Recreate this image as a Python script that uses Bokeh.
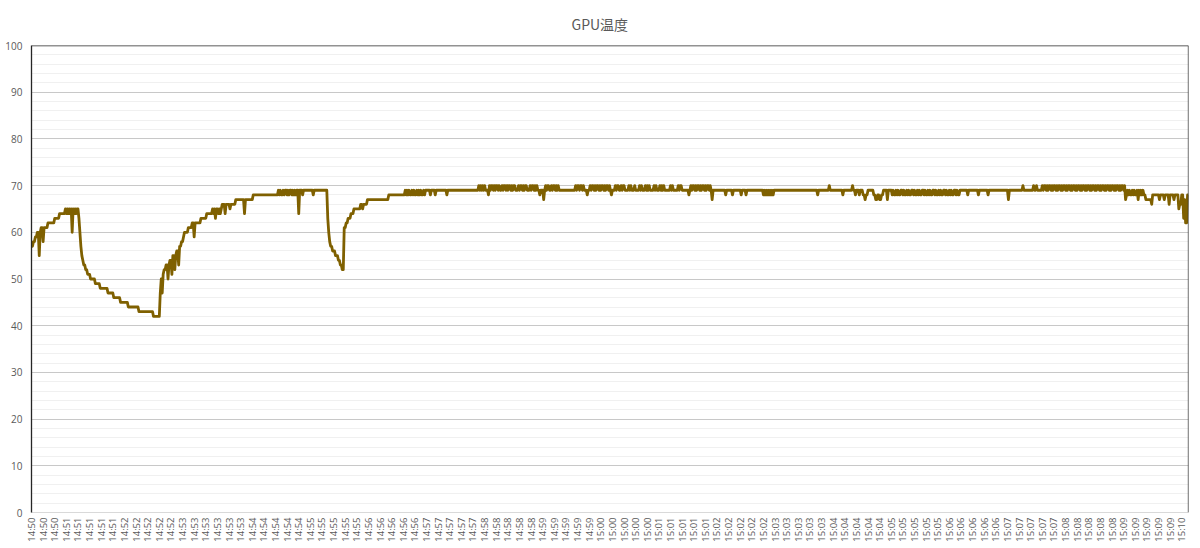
import numpy as np
from bokeh.plotting import figure
from bokeh.models import Range1d, FixedTicker, SingleIntervalTicker, Span
from bokeh.embed import file_html
from bokeh.resources import INLINE

# ---- data: GPU temperature (°C), one sample per step ----
N_SAMPLES = 1196
# (sample index where a value starts, temperature)
steps_start = [(0, 57), (2, 58), (4, 59), (6, 60), (8, 55), (9, 60), (10, 61), (12, 58), (13, 61),
               (17, 62), (24, 63), (29, 64), (35, 65), (36, 64), (37, 65), (38, 64), (39, 65),
               (40, 64), (41, 65), (42, 60), (43, 65), (44, 64), (45, 65), (46, 64), (47, 65)]
steps_cooldown = [(49, 63), (50, 60), (51, 57), (52, 55), (53, 54), (54, 53), (56, 52), (58, 51),
                  (61, 50), (66, 49), (71, 48), (79, 47), (85, 46), (92, 45), (100, 44),
                  (111, 43), (126, 42)]
steps_warmup = [(133, 47), (134, 50), (135, 47), (136, 51), (137, 52), (139, 53), (141, 50),
                (142, 53), (143, 54), (145, 51), (146, 55), (148, 52), (149, 55), (150, 56),
                (152, 53), (153, 57), (155, 58), (157, 59), (158, 60), (162, 61), (166, 62),
                (168, 59), (169, 62), (175, 63), (181, 64), (187, 65), (188, 64), (189, 65),
                (190, 63), (191, 65), (193, 64), (194, 65), (195, 64), (196, 65), (197, 66),
                (200, 64), (201, 66), (205, 65), (206, 66), (211, 67), (220, 64), (221, 67),
                (229, 68)]
steps_load1 = [(255, 69), (256, 68), (257, 69), (258, 68), (260, 69), (261, 68), (262, 69),
               (264, 68), (265, 69), (266, 68), (267, 69), (269, 68), (270, 69), (271, 68),
               (272, 69), (273, 68), (274, 69), (276, 64), (277, 69), (280, 68), (281, 69),
               (291, 68), (292, 69)]
steps_dip = [(306, 63), (307, 60), (308, 58), (309, 57), (311, 56), (314, 55), (317, 54),
             (319, 53), (321, 52), (323, 61), (325, 62), (327, 63), (330, 64), (333, 65),
             (340, 66), (342, 65), (343, 66), (347, 67), (369, 68)]
steps_load2 = [(386, 69), (387, 68), (388, 69), (389, 68), (390, 69), (391, 68), (393, 69),
               (394, 68), (395, 69), (396, 68), (398, 69), (399, 68), (400, 69), (401, 68),
               (402, 69), (403, 68), (405, 69), (406, 68), (407, 69), (412, 68), (413, 69),
               (417, 68), (418, 69), (429, 68), (430, 69)]
steps_load3 = [(462, 70), (463, 69), (464, 70), (465, 69), (466, 70), (467, 69), (468, 70),
               (469, 69), (472, 68), (473, 70), (474, 69), (475, 70), (477, 69), (478, 70),
               (479, 69), (480, 70), (482, 69), (483, 70), (484, 69), (486, 70), (487, 69),
               (488, 70), (490, 69), (491, 70), (492, 69), (493, 70), (495, 69), (496, 70),
               (497, 69), (498, 70), (500, 69), (503, 70), (504, 69), (505, 70), (507, 69),
               (508, 70), (509, 69), (510, 70), (512, 69), (515, 70), (516, 69), (517, 70),
               (519, 69), (520, 70), (521, 69), (522, 70), (523, 69), (525, 68), (526, 69),
               (529, 67), (530, 69), (531, 70), (532, 69), (533, 70), (535, 69), (537, 70),
               (538, 69), (539, 70), (541, 69), (542, 70), (543, 69), (544, 70), (545, 69)]
steps_load4 = [(562, 70), (563, 69), (564, 70), (566, 69), (567, 70), (569, 69), (570, 70),
               (571, 69), (574, 68), (575, 69), (577, 70), (578, 69), (579, 70), (581, 69),
               (582, 70), (583, 69), (584, 70), (586, 69), (587, 70), (588, 69), (589, 70),
               (591, 69), (592, 70), (593, 69), (594, 70), (596, 69), (597, 70), (598, 69),
               (599, 68), (600, 69), (603, 70), (604, 69), (605, 70), (607, 69), (609, 70),
               (610, 69), (611, 70), (613, 69), (617, 70), (618, 69), (619, 70), (620, 69),
               (623, 70), (624, 69), (628, 70), (629, 69), (630, 70), (631, 69), (634, 70),
               (635, 69), (636, 70), (637, 69), (638, 70), (639, 69), (643, 70), (644, 69),
               (645, 70), (646, 69), (649, 70), (650, 69), (651, 70), (652, 69), (653, 70),
               (654, 69), (660, 70), (661, 69), (662, 70), (663, 69), (668, 70), (669, 69),
               (670, 70), (672, 69), (679, 68), (680, 69), (681, 70), (682, 69), (683, 70),
               (685, 69), (686, 70), (687, 69), (688, 70), (690, 69), (691, 70), (692, 69),
               (693, 70), (695, 69), (696, 70), (697, 69), (698, 70), (700, 69), (701, 70),
               (702, 69), (703, 67), (704, 69)]
steps_steady = [(717, 68), (718, 69), (724, 68), (725, 69), (733, 68), (734, 69), (738, 68),
                (739, 69), (756, 68), (757, 69), (758, 68), (759, 69), (760, 68), (761, 69),
                (762, 68), (763, 69), (764, 68), (765, 69), (766, 68), (767, 69), (812, 68),
                (813, 69), (824, 70), (825, 69), (838, 68), (839, 69), (848, 70), (849, 69),
                (851, 68), (852, 69), (855, 68), (856, 69), (859, 68), (861, 67), (862, 68),
                (864, 69), (870, 68), (872, 67), (874, 68), (876, 67), (878, 68), (880, 69),
                (884, 67), (885, 69)]
steps_flicker = [(889, 68), (890, 69), (891, 68), (893, 69), (894, 68), (895, 69), (896, 68),
                 (898, 69), (900, 68), (901, 69), (902, 68), (904, 69), (905, 68), (906, 69),
                 (907, 68), (909, 69), (911, 68), (912, 69), (913, 68), (915, 69), (916, 68),
                 (917, 69), (918, 68), (920, 69), (922, 68), (923, 69), (924, 68), (926, 69),
                 (927, 68), (928, 69), (929, 68), (931, 69), (933, 68), (934, 69), (935, 68),
                 (937, 69), (938, 68), (939, 69), (940, 68), (942, 69), (944, 68), (945, 69),
                 (946, 68), (948, 69), (949, 68), (950, 69), (951, 68), (953, 69), (955, 68),
                 (956, 69), (957, 68), (959, 69), (967, 68), (968, 69), (978, 68), (979, 69),
                 (988, 68), (989, 69)]
steps_load5 = [(1009, 67), (1010, 69), (1024, 70), (1025, 69), (1035, 70), (1036, 69),
               (1038, 70), (1039, 69), (1044, 70), (1045, 69), (1046, 70), (1048, 69),
               (1049, 70), (1050, 69), (1051, 70), (1053, 69), (1054, 70), (1055, 69),
               (1056, 70), (1058, 69), (1059, 70), (1060, 69), (1061, 70), (1063, 69),
               (1064, 70), (1065, 69), (1066, 70), (1068, 69), (1069, 70), (1070, 69),
               (1071, 70), (1073, 69), (1074, 70), (1075, 69), (1076, 70), (1078, 69),
               (1079, 70), (1080, 69), (1081, 70), (1083, 69), (1084, 70), (1085, 69),
               (1086, 70), (1088, 69), (1089, 70), (1090, 69), (1091, 70), (1093, 69),
               (1094, 70), (1095, 69), (1096, 70), (1098, 69), (1099, 70), (1100, 69),
               (1101, 70), (1103, 69), (1104, 70), (1105, 69), (1106, 70), (1108, 69),
               (1109, 70), (1110, 69), (1111, 70), (1113, 69), (1114, 70), (1115, 69),
               (1116, 70), (1118, 69), (1119, 70), (1120, 69), (1121, 70), (1123, 69),
               (1124, 70), (1125, 69), (1126, 70), (1128, 69), (1129, 70)]
steps_end = [(1130, 67), (1131, 68), (1132, 69), (1133, 68), (1134, 69), (1135, 68), (1137, 69),
             (1138, 68), (1139, 69), (1140, 68), (1142, 69), (1143, 67), (1144, 69), (1145, 68),
             (1146, 69), (1147, 68), (1148, 69), (1149, 68), (1151, 67), (1157, 66), (1158, 68),
             (1165, 67), (1166, 68), (1170, 67), (1171, 68), (1175, 66), (1176, 68), (1180, 67),
             (1181, 68), (1185, 65), (1186, 66), (1188, 68), (1190, 63), (1191, 67), (1192, 62),
             (1194, 68)]

tick_labels = (
    ["14:50"] * 3 + ["14:51"] * 5 + ["14:52"] * 5 + ["14:53"] * 6 + ["14:54"] * 5
    + ["14:55"] * 5 + ["14:56"] * 5 + ["14:57"] * 5 + ["14:58"] * 5 + ["14:59"] * 5
    + ["15:00"] * 5 + ["15:01"] * 5 + ["15:02"] * 5 + ["15:03"] * 5 + ["15:04"] * 5
    + ["15:05"] * 5 + ["15:06"] * 5 + ["15:07"] * 5 + ["15:08"] * 5 + ["15:09"] * 5
    + ["15:10"] * 1
)
LABEL_EVERY = 12
TITLE = "GPU温度"

# expand the step description into one value per sample
steps = sorted(steps_start + steps_cooldown + steps_warmup + steps_load1 + steps_dip
               + steps_load2 + steps_load3 + steps_load4 + steps_steady + steps_flicker
               + steps_load5 + steps_end)
temps = np.empty(N_SAMPLES)
for i, (s, v) in enumerate(steps):
    e = steps[i + 1][0] if i + 1 < len(steps) else N_SAMPLES
    temps[s:e] = v
xs = np.arange(N_SAMPLES)

TXT = "#595959"
p = figure(width=1196, height=546, output_backend="svg", toolbar_location=None,
           x_range=Range1d(0, N_SAMPLES - 1), y_range=Range1d(0, 100),
           min_border_left=31, min_border_right=8, min_border_top=45, min_border_bottom=34)
p.title.text = TITLE
p.title.align = "left"
p.title.offset = 540
p.title.vertical_align = "top"
p.title.standoff = 20
p.title.text_font = "Noto Sans CJK JP"
p.title.text_font_size = "14px"
p.title.text_font_style = "normal"
p.title.text_color = TXT

p.outline_line_color = None
p.background_fill_color = "white"
p.border_fill_color = "white"

# y axis
p.yaxis.ticker = SingleIntervalTicker(interval=10, num_minor_ticks=5)
p.yaxis.major_tick_line_color = None
p.yaxis.minor_tick_line_color = None
p.yaxis.major_tick_out = 0
p.yaxis.minor_tick_out = 0
p.yaxis.axis_line_color = "#262626"
p.yaxis.axis_line_width = 1.3
p.yaxis.major_label_text_font = "Open Sans"
p.yaxis.major_label_text_font_size = "10px"
p.yaxis.major_label_text_color = TXT
p.yaxis.major_label_standoff = 9

# x axis
tick_pos = [i * LABEL_EVERY for i in range(len(tick_labels))]
p.xaxis.ticker = FixedTicker(ticks=tick_pos)
p.xaxis.major_label_overrides = {t: s for t, s in zip(tick_pos, tick_labels)}
p.xaxis.major_label_orientation = np.pi / 2
p.xaxis.major_tick_line_color = None
p.xaxis.minor_tick_line_color = None
p.xaxis.major_tick_out = 0
p.xaxis.minor_tick_out = 0
p.xaxis.axis_line_color = "#d9d9d9"
p.xaxis.major_label_text_font = "Open Sans"
p.xaxis.major_label_text_font_size = "9.5px"
p.xaxis.major_label_text_color = TXT
p.xaxis.major_label_standoff = 5

# grid
p.xgrid.grid_line_color = None
p.ygrid.grid_line_color = "#c8c8c8"
p.ygrid.grid_line_width = 1
p.ygrid.minor_grid_line_color = "#f0f0f0"
p.ygrid.minor_grid_line_width = 1

# dark plot-area border on top and right
p.add_layout(Span(location=100, dimension="width", line_color="#262626", line_width=1.3))
p.add_layout(Span(location=N_SAMPLES - 1, dimension="height", line_color="#262626", line_width=1.3))

p.line(xs, temps, line_color="#7F6000", line_width=2.8, line_join="round")

open("out.html", "w").write(file_html(p, INLINE))
